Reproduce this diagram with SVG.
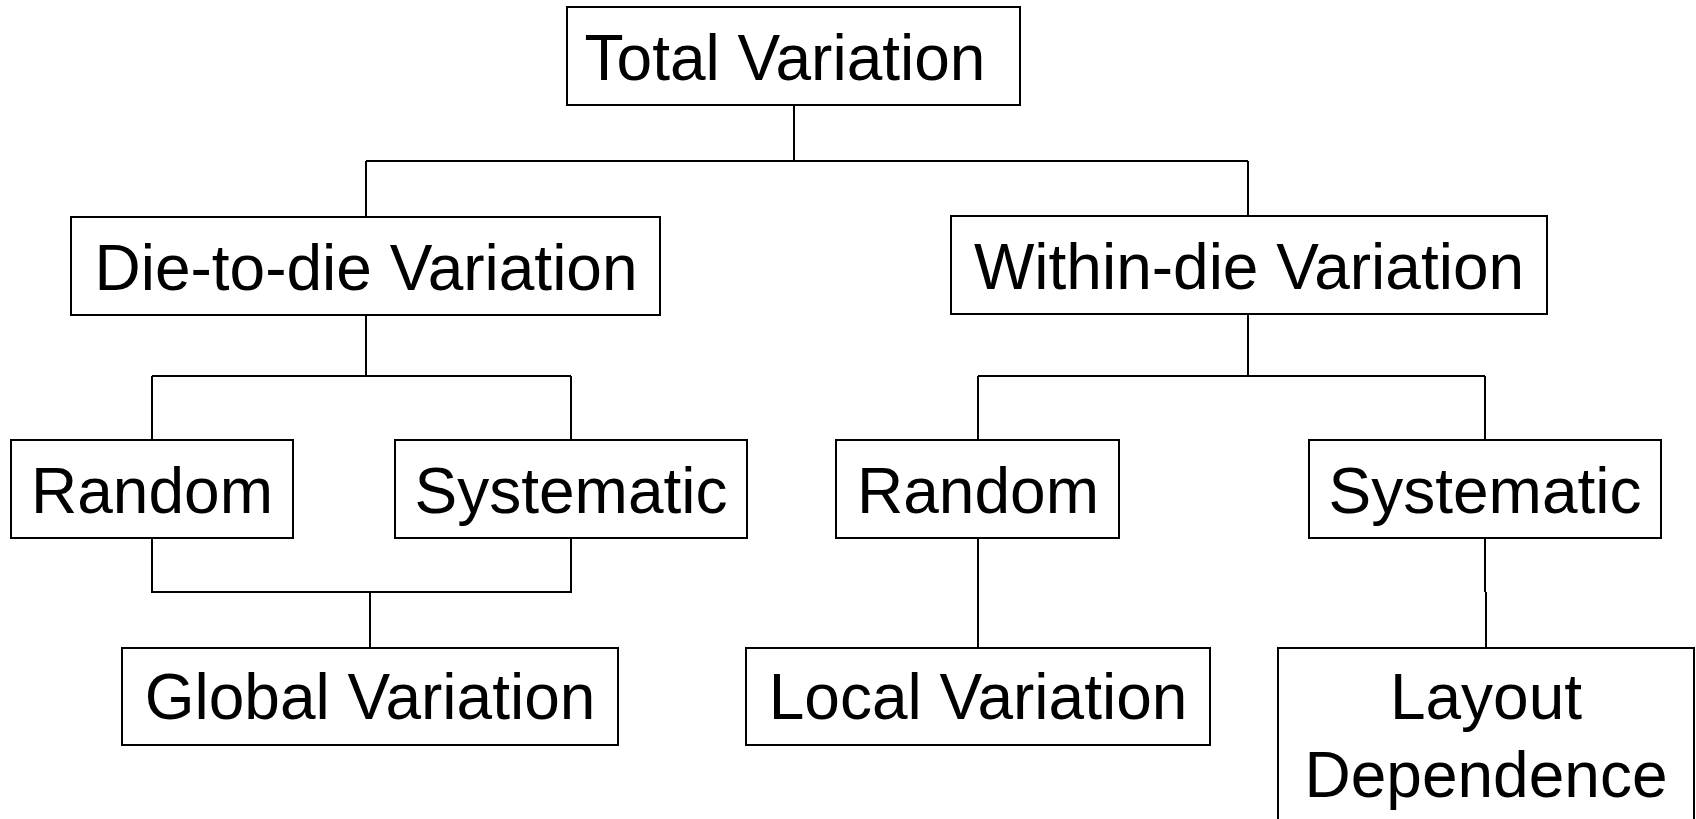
<svg xmlns="http://www.w3.org/2000/svg" width="1696" height="819" viewBox="0 0 1696 819">
<style>
.box{fill:#fff;stroke:#000;stroke-width:2}
.lbl{font-family:"Liberation Sans",Arial,sans-serif;font-size:64px;fill:#000;text-anchor:middle}
.con{fill:none;stroke:#000;stroke-width:2}
</style>
<rect width="1696" height="819" fill="#fff"/>
<g id="connectors">
<path class="con" d="M794,105 V161 M366,161 H1248 M366,161 V217 M1248,161 V216"/>
<path class="con" d="M366,315 V376 M152,376 H571 M152,376 V440 M571,376 V440"/>
<path class="con" d="M1248,314 V376 M978,376 H1485 M978,376 V440 M1485,376 V440"/>
<path class="con" d="M152,538 V592 H571 V538 M370,592 V648"/>
<path class="con" d="M978,538 V592 M978,592 V648"/>
<path class="con" d="M1485,538 V592 M1486,592 V648"/>
</g>
<g id="total"><rect class="box" x="567" y="7" width="453" height="98"/><text class="lbl" x="785" y="80">Total Variation</text></g>
<g id="d2d"><rect class="box" x="71" y="217" width="589" height="98"/><text class="lbl" x="366" y="290">Die-to-die Variation</text></g>
<g id="wid"><rect class="box" x="951" y="216" width="596" height="98"/><text class="lbl" x="1249" y="289">Within-die Variation</text></g>
<g id="rand1"><rect class="box" x="11" y="440" width="282" height="98"/><text class="lbl" x="152" y="513">Random</text></g>
<g id="sys1"><rect class="box" x="395" y="440" width="352" height="98"/><text class="lbl" x="571" y="513">Systematic</text></g>
<g id="rand2"><rect class="box" x="836" y="440" width="283" height="98"/><text class="lbl" x="978" y="513">Random</text></g>
<g id="sys2"><rect class="box" x="1309" y="440" width="352" height="98"/><text class="lbl" x="1485" y="513">Systematic</text></g>
<g id="global"><rect class="box" x="122" y="648" width="496" height="97"/><text class="lbl" x="370" y="719">Global Variation</text></g>
<g id="local"><rect class="box" x="746" y="648" width="464" height="97"/><text class="lbl" x="978" y="719">Local Variation</text></g>
<g id="layout"><rect class="box" x="1278" y="648" width="416" height="190"/><text class="lbl" x="1486" y="719">Layout</text><text class="lbl" x="1486" y="797">Dependence</text></g>
</svg>
